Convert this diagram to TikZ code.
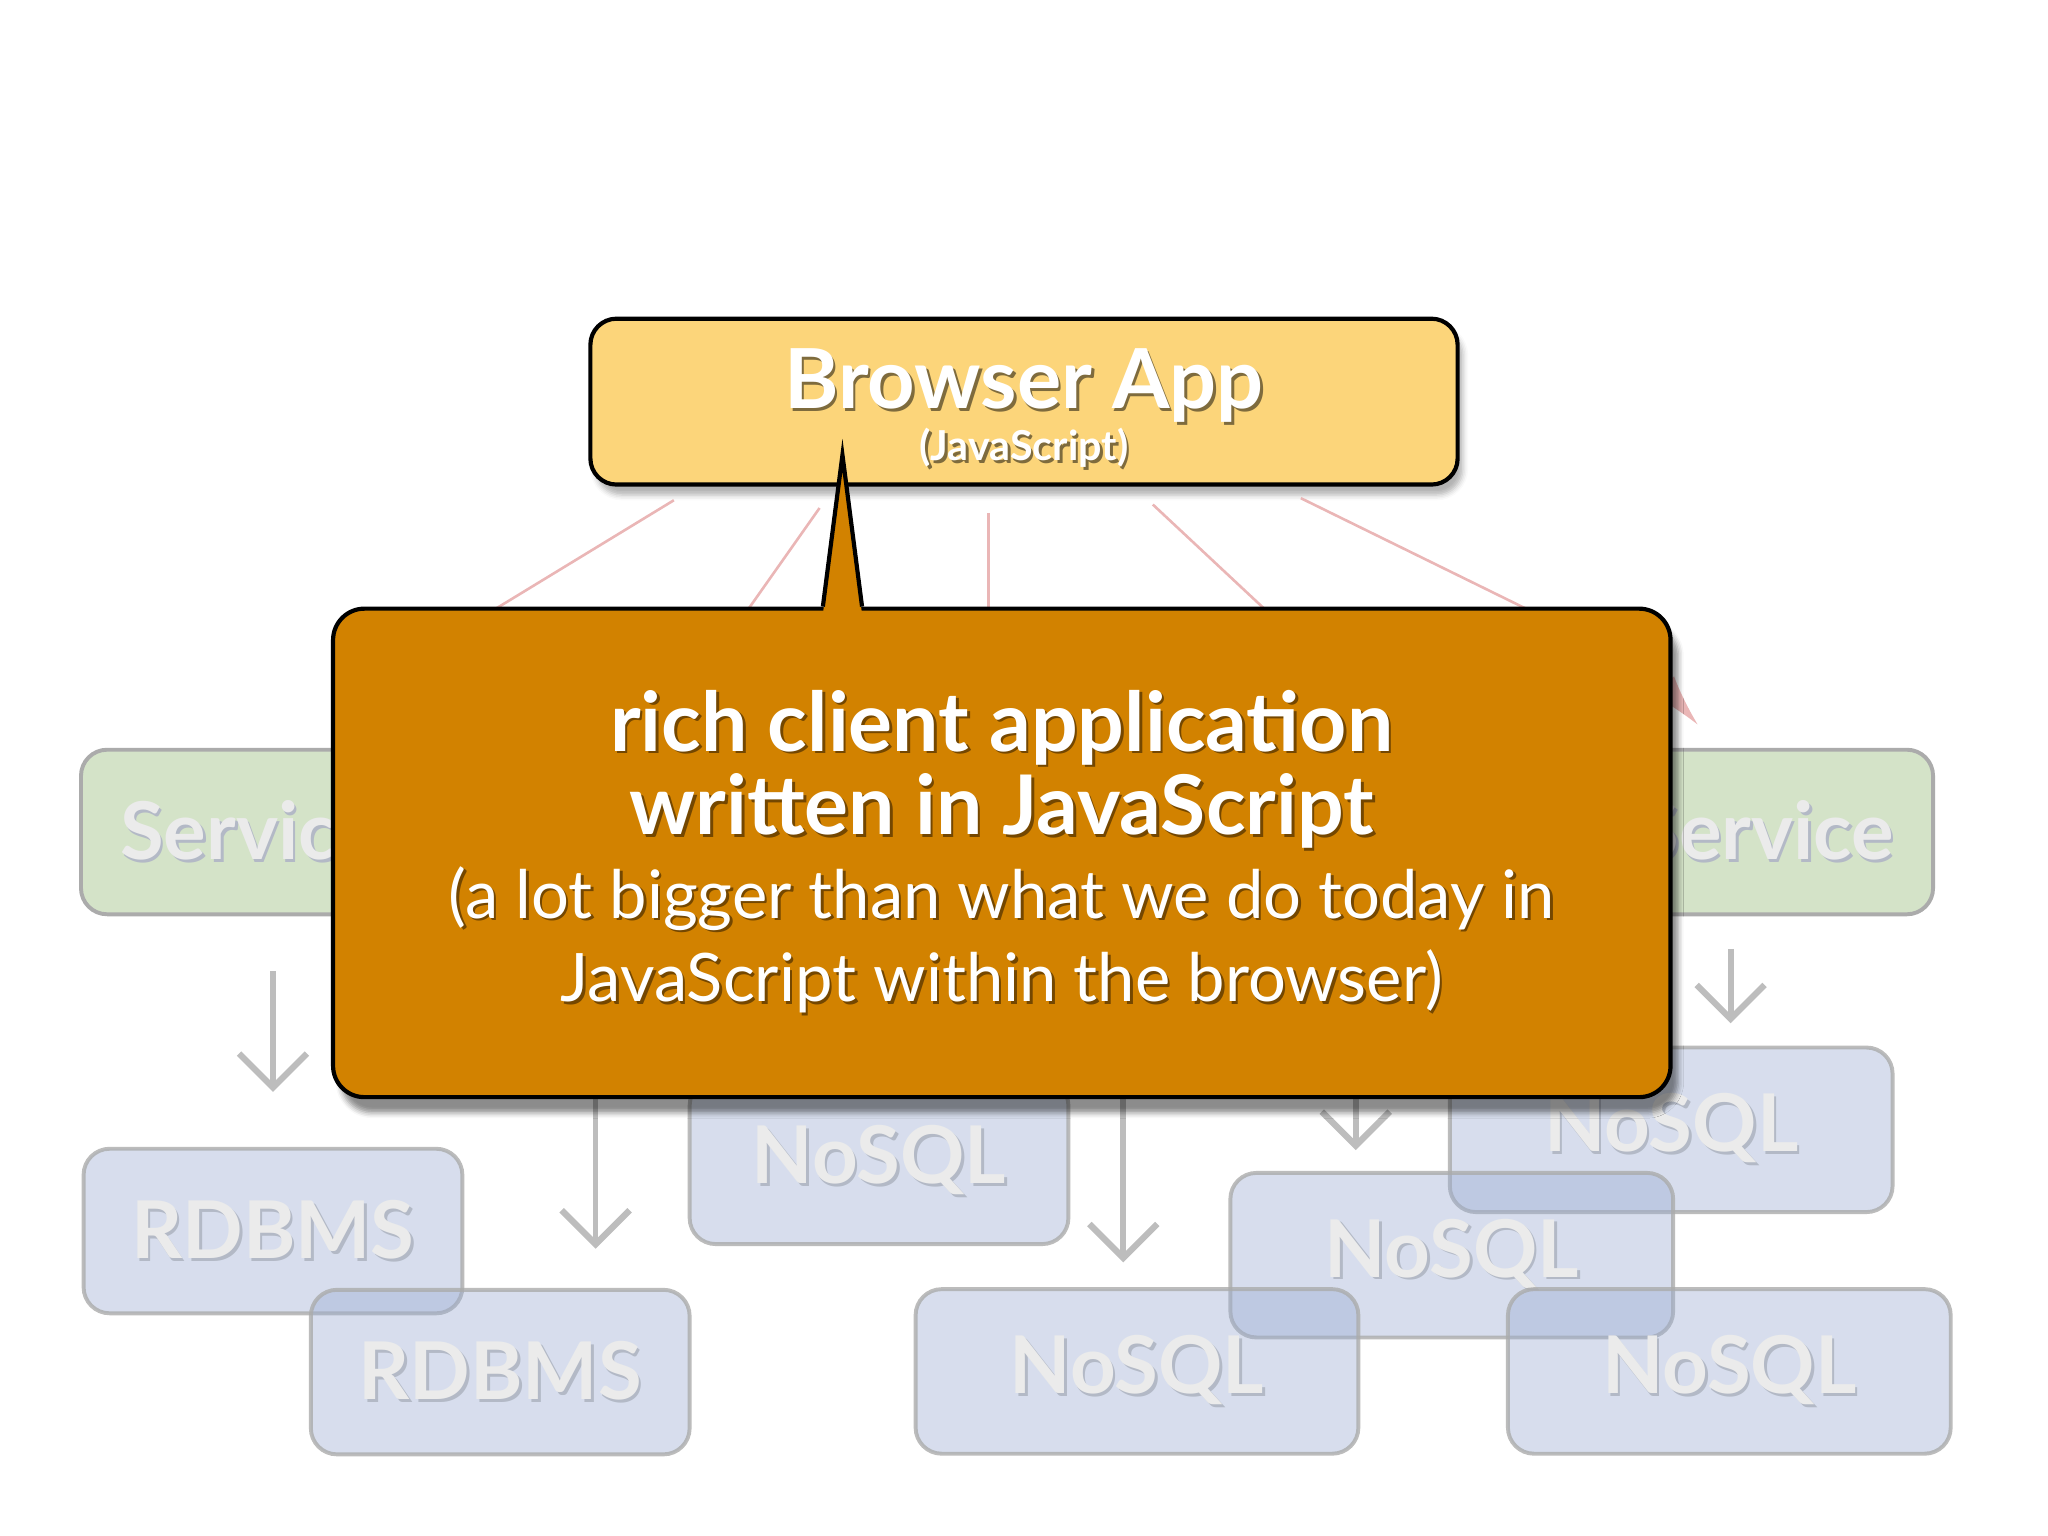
\documentclass[tikz,border=0pt]{standalone}
\usepackage{fontspec}
\setmainfont{Lato}
\usepackage{tikz}
\usetikzlibrary{arrows.meta,calc,shadows.blur}

\definecolor{appyellow}{HTML}{FCD57A}
\definecolor{bubbleorange}{HTML}{D28200}
\definecolor{svcgreen}{HTML}{D4E3C8}
\definecolor{dbblue}{HTML}{9AABD2}
\definecolor{relpink}{HTML}{EAB6B6}
\definecolor{arrowgrey}{HTML}{BDBDBD}
\definecolor{boxgrey}{HTML}{ABABAB}
\definecolor{fadetext}{HTML}{EBEBEB}
\definecolor{fadeshade}{HTML}{B3B9C6}

\begin{document}
\begin{tikzpicture}[x=0.5pt,y=0.5pt,>=Latex]
			\tikzstyle{appbox}=[draw=black, line width=1.6pt, rounded corners=10pt, fill=appyellow, text=white, align=center, inner sep=0pt, minimum width=332pt, minimum height=63.5pt, font=\fontsize{10}{18.5}\selectfont, blur shadow={shadow xshift=2pt, shadow yshift=-4pt, shadow opacity=30}]
			\tikzstyle{bubble}=[draw=black, line width=1.6pt, rounded corners=12pt, fill=bubbleorange, text=white, align=center, inner sep=0pt, minimum width=512pt, minimum height=187pt, font=\fontsize{25.6}{32}\selectfont, blur shadow={shadow xshift=3pt, shadow yshift=-6pt, shadow opacity=45}]
			\tikzstyle{svcbox}=[draw=boxgrey, line width=1.5pt, rounded corners=10pt, fill=svcgreen, text=fadetext, inner sep=0pt, minimum width=129pt, minimum height=63pt, font=\fontsize{30.5}{34}\selectfont\bfseries]
			\tikzstyle{dbbox}=[draw=boxgrey, draw opacity=0.8, line width=1.5pt, rounded corners=10pt, fill=dbblue, fill opacity=0.4, text opacity=1, text=fadetext, inner sep=0pt, minimum width=145pt, minimum height=63pt, font=\fontsize{30.5}{34}\selectfont\bfseries]
			\tikzstyle{relline}=[relpink, line width=1pt, shorten <=10pt, -{Latex[length=20pt,width=11pt]}]
			\tikzstyle{dbarrow}=[arrowgrey, line width=2.2pt, -{Straight Barb[length=13pt,width=26pt,line width=2.4pt]}]

			\newcommand{\ShadowText}[2]{\makebox[0pt][l]{\kern1pt\raisebox{-1pt}{\textcolor{#1}{#2}}}#2}

			\useasboundingbox (0,0) rectangle (1568,-1176);

			\node (BA) [appbox] at (784,-307.5) {{\fontsize{31.7}{32}\selectfont\bfseries\rule{0pt}{29pt}\ShadowText{black!50!appyellow}{Browser App}}\\{\fontsize{15.8}{18}\selectfont\bfseries\ShadowText{black!50!appyellow}{(JavaScript)}}};

			\coordinate (t1) at (291,-520);
			\coordinate (t2) at (521,-540);
			\coordinate (t3) at (757,-540);
			\coordinate (t4) at (1047,-540);
			\coordinate (b5) at (1262,-512);
			\coordinate (t5) at (1300,-555);

			\draw [relline] ($(BA.south)+(-251,0)$) -- (t1);
			\draw [relline] ($(BA.south)+(-145,0)$) -- (t2);
			\draw [relline] ($(BA.south)+(-27,0)$) -- (t3);
			\draw [relline] ($(BA.south)+(84,0)$) -- (t4);
			\draw [relline] ($(BA.south)+(194,0)$) -- (b5) -- (t5);

			\node (S1) [svcbox] at (191,-637) {\ShadowText{fadeshade}{Service}};
			\node (S2) [svcbox] at (1351,-637) {\ShadowText{fadeshade}{Service}};

			\node (R1) [dbbox] at (209,-942.5) {\ShadowText{fadeshade}{RDBMS}};
			\node (R2) [dbbox] at (383,-1050.5) {\ShadowText{fadeshade}{RDBMS}};
			\node (N1) [dbbox] at (673,-889.5) {\ShadowText{fadeshade}{NoSQL}};
			\node (N2) [dbbox, minimum width=169.5pt] at (1279.5,-865) {\ShadowText{fadeshade}{NoSQL}};
			\node (N3) [dbbox, minimum width=169.5pt] at (1111.5,-961) {\ShadowText{fadeshade}{NoSQL}};
			\node (N4) [dbbox, minimum width=169.5pt] at (870.5,-1050) {\ShadowText{fadeshade}{NoSQL}};
			\node (N5) [dbbox, minimum width=169.5pt] at (1324,-1050) {\ShadowText{fadeshade}{NoSQL}};

			\coordinate (h2) at (456,-780);
			\coordinate (h3) at (860,-780);
			\coordinate (h4) at (1038,-780);
			\coordinate (h5) at ($(S2.south)+(-26,0)$);

			\draw [dbarrow, shorten <=21pt, shorten >=21pt] (S1.south -| R1.north) -- (R1.north);
			\draw [dbarrow, shorten >=15pt] (h2) -- (h2 |- R2.north);
			\draw [dbarrow, shorten >=9.5pt] (h3) -- (h3 |- N4.north);
			\draw [dbarrow, shorten >=8pt] (h4) -- (h4 |- N3.north);
			\draw [dbarrow, shorten <=12.5pt, shorten >=8.5pt] (h5) -- (h5 |- N2.north);

			\node (CB) [bubble] at (767,-653) {{\fontsize{31.5}{32}\selectfont\bfseries\ShadowText{black!45!bubbleorange}{rich client application}}\\{\fontsize{31.5}{32}\selectfont\bfseries\ShadowText{black!45!bubbleorange}{written in JavaScript}}\\\ShadowText{black!45!bubbleorange}{(a lot bigger than what we do today in}\\\ShadowText{black!45!bubbleorange}{JavaScript within the browser)}};

			\fill [bubbleorange] ($(CB.north)+(-137,-6)$) -- ($(CB.north)+(-122,116)$) -- ($(CB.north)+(-107,-6)$) -- cycle;
			\draw [line width=1.6pt] ($(CB.north)+(-137,0)$) -- ($(CB.north)+(-122,116)$) -- ($(CB.north)+(-107,0)$);
		\end{tikzpicture}
\end{document}
